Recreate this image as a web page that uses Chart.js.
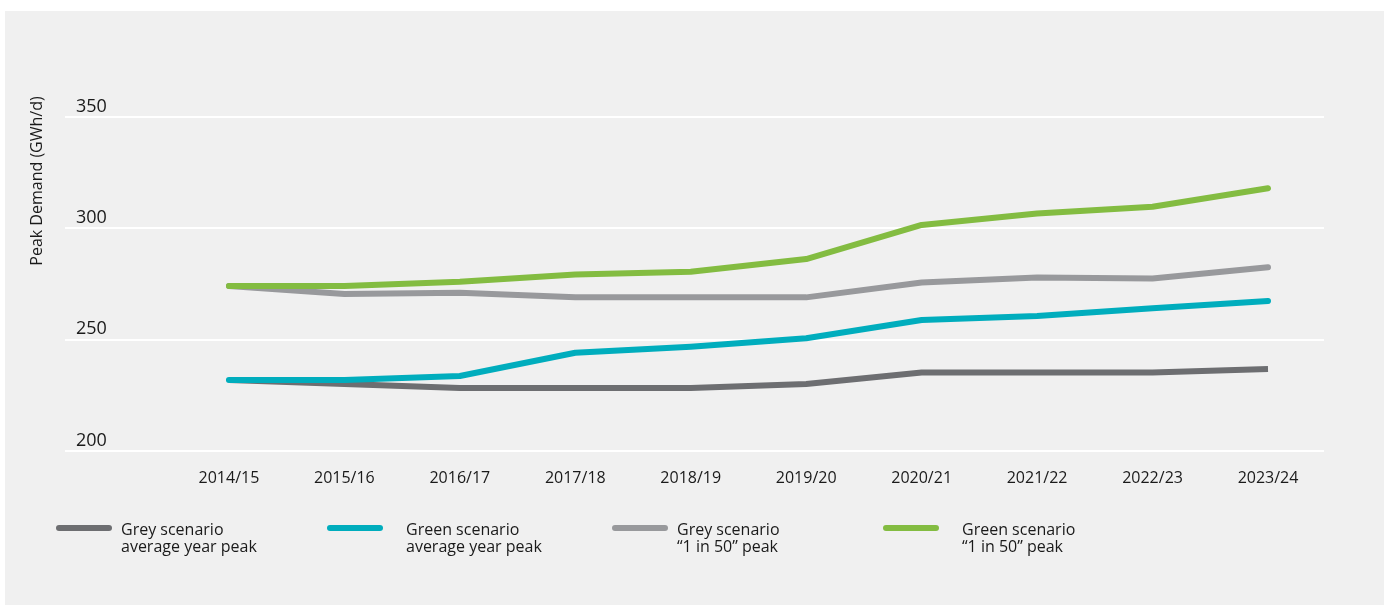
<!DOCTYPE html>
<html>
<head>
<meta charset="utf-8">
<script src="https://cdn.jsdelivr.net/npm/chart.js@4"></script>
<style>
  html, body { margin:0; padding:0; background:#ffffff; width:1384px; height:605px; overflow:hidden; }
  #panel { position:absolute; left:5px; top:11px; width:1379px; height:594px; background:#f0f0f0; }
  #c { position:absolute; left:0; top:0; }
  .lg-line { position:absolute; height:6px; border-radius:3px; }
  .lg-text { position:absolute; font-family:'Open Sans', sans-serif; font-size:16px; line-height:17px; color:#1a1a1a; white-space:pre; }
</style>
</head>
<body>
<div id="panel"></div>
<canvas id="c" width="1384" height="605"></canvas>
<div id="legend"></div>
<script>
// ---- data ----
const categories = ['2014/15','2015/16','2016/17','2017/18','2018/19','2019/20','2020/21','2021/22','2022/23','2023/24'];
const greyAverage   = [231.9, 230.1, 228.3, 228.3, 228.3, 230.1, 235.3, 235.3, 235.3, 236.8];
const greenAverage  = [231.9, 231.9, 233.7, 244.1, 246.8, 250.6, 258.8, 260.6, 264.1, 267.4];
const grey1in50     = [274.1, 270.5, 271.1, 269.0, 269.0, 269.0, 275.7, 277.9, 277.5, 282.5];
const green1in50    = [274.1, 274.1, 276.0, 279.3, 280.5, 286.2, 301.5, 306.7, 309.7, 318.0];
const seriesLabels  = ['Grey scenario\naverage year peak', 'Green scenario\naverage year peak', 'Grey scenario\n\u201C1 in 50\u201D peak', 'Green scenario\n\u201C1 in 50\u201D peak'];
const yTicks = [200, 250, 300, 350];
const yTitle = 'Peak Demand (GWh/d)';

// ---- styles ----
const colors = ['#6d6e71', '#00adbd', '#98999c', '#83bc41'];
const caps = ['butt', 'round', 'round', 'round'];
const drawOrder = [2, 1, 2, 1];
const legendLineX = [56, 327, 612, 883];
const legendTextX = [121, 406, 677, 962];

const seriesData = [greyAverage, greenAverage, grey1in50, green1in50];

Chart.defaults.font.family = "'Open Sans', sans-serif";
Chart.defaults.color = '#1a1a1a';

const yTitlePlugin = {
  id: 'yTitle',
  afterDraw(chart) {
    const ctx = chart.ctx;
    ctx.save();
    ctx.translate(37.5, 181);
    ctx.rotate(-Math.PI / 2);
    ctx.font = "16px 'Open Sans', sans-serif";
    ctx.fillStyle = '#1a1a1a';
    ctx.textAlign = 'center';
    ctx.textBaseline = 'middle';
    ctx.fillText(yTitle, 0, 0);
    ctx.restore();
  }
};

const chart = new Chart(document.getElementById('c'), {
  type: 'line',
  data: {
    datasets: seriesData.map((arr, k) => ({
      label: seriesLabels[k],
      data: arr.map((v, i) => ({ x: i, y: v })),
      borderColor: colors[k],
      backgroundColor: colors[k],
      borderWidth: 6,
      borderCapStyle: caps[k],
      borderJoinStyle: 'round',
      pointRadius: 0,
      pointHoverRadius: 0,
      tension: 0,
      fill: false,
      order: drawOrder[k]
    }))
  },
  options: {
    responsive: false,
    animation: false,
    devicePixelRatio: 1,
    layout: { padding: { left: 43, right: 60, top: 117, bottom: 98.8 } },
    plugins: { legend: { display: false }, tooltip: { enabled: false } },
    scales: {
      x: {
        type: 'linear',
        min: -1.42,
        max: 9.485,
        grid: { display: false, drawTicks: false },
        border: { display: false },
        afterBuildTicks: (scale) => { scale.ticks = categories.map((c, i) => ({ value: i })); },
        ticks: {
          autoSkip: false,
          maxRotation: 0,
          padding: 18,
          font: { size: 16 },
          color: '#1a1a1a',
          callback: (v) => categories[v]
        }
      },
      y: {
        type: 'linear',
        min: yTicks[0],
        max: yTicks[yTicks.length - 1],
        afterBuildTicks: (scale) => { scale.ticks = yTicks.map(v => ({ value: v })); },
        grid: { color: '#ffffff', lineWidth: 2, drawTicks: false },
        border: { display: false },
        ticks: {
          mirror: true,
          padding: 11,
          labelOffset: -10.5,
          font: { size: 18 },
          color: '#1a1a1a'
        }
      }
    }
  },
  plugins: [yTitlePlugin]
});

// ---- HTML legend built from the chart's datasets ----
const legend = document.getElementById('legend');
chart.data.datasets.forEach((ds, k) => {
  const line = document.createElement('div');
  line.className = 'lg-line';
  line.style.left = legendLineX[k] + 'px';
  line.style.top = '525px';
  line.style.width = '56px';
  line.style.background = ds.borderColor;
  legend.appendChild(line);
  const txt = document.createElement('div');
  txt.className = 'lg-text';
  txt.style.left = legendTextX[k] + 'px';
  txt.style.top = '521px';
  txt.textContent = ds.label;
  legend.appendChild(txt);
});
</script>
</body>
</html>
